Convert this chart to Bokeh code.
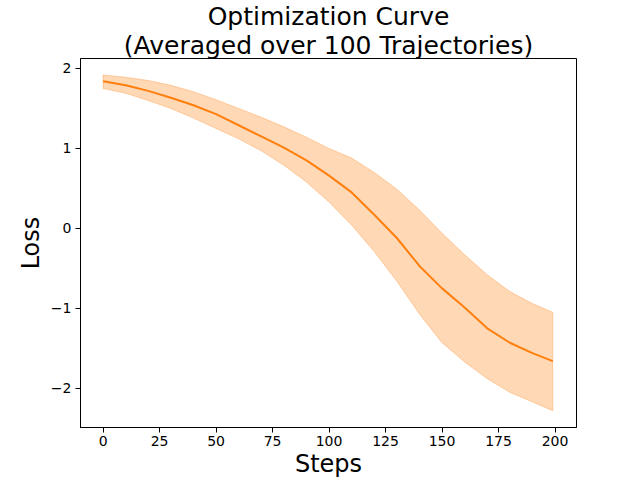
from bokeh.plotting import figure
from bokeh.models import Range1d, FixedTicker, Title
from bokeh.embed import file_html
from bokeh.resources import INLINE

steps = [0, 10, 20, 30, 40, 50, 60, 70, 80, 90, 100, 110, 120, 130, 140, 150, 160, 170, 180, 190, 199]
mean_loss = [1.84, 1.79, 1.72, 1.635, 1.54, 1.43, 1.29, 1.15, 1.01, 0.85, 0.66, 0.45, 0.17, -0.12, -0.47, -0.75, -0.99, -1.25, -1.43, -1.56, -1.66]
upper_loss = [1.92, 1.89, 1.85, 1.79, 1.71, 1.61, 1.50, 1.39, 1.27, 1.14, 1.00, 0.88, 0.70, 0.49, 0.23, -0.06, -0.33, -0.58, -0.79, -0.94, -1.05]
lower_loss = [1.75, 1.69, 1.60, 1.50, 1.38, 1.25, 1.12, 0.97, 0.79, 0.58, 0.33, 0.04, -0.29, -0.66, -1.07, -1.43, -1.67, -1.88, -2.05, -2.17, -2.28]
x_ticks = [0, 25, 50, 75, 100, 125, 150, 175, 200]
y_ticks = [-2, -1, 0, 1, 2]
title_lines = ["Optimization Curve", "(Averaged over 100 Trajectories)"]

FONT = "DejaVu Sans"
ORANGE = "#ff7f0e"

p = figure(width=640, height=480, output_backend="svg", toolbar_location=None,
           x_range=Range1d(-10, 209.5), y_range=Range1d(-2.49, 2.125),
           min_border_left=80, min_border_right=64, min_border_top=58, min_border_bottom=53)

p.title.text = title_lines[0]
p.title.align = "center"
p.title.text_font = FONT
p.title.text_font_size = "25px"
p.title.text_font_style = "normal"
p.title.text_color = "black"
p.title.standoff = -2
p.title.offset = 0
sub_title = Title(text=title_lines[1], align="center", text_font=FONT, text_font_size="25px",
                  text_font_style="normal", text_color="black", standoff=-2)
p.add_layout(sub_title, "above")

xs_poly = steps + steps[::-1]
ys_poly = upper_loss + lower_loss[::-1]
p.patch(xs_poly, ys_poly, fill_color=ORANGE, fill_alpha=0.3, line_color=ORANGE, line_alpha=0.3, line_width=1)
p.line(steps, mean_loss, line_color=ORANGE, line_width=2)

p.xgrid.visible = False
p.ygrid.visible = False
p.outline_line_color = "black"
p.outline_line_alpha = 1
p.outline_line_width = 1

for ax in (p.xaxis[0], p.yaxis[0]):
    ax.axis_line_color = "black"
    ax.major_tick_line_color = "black"
    ax.major_tick_out = 5
    ax.major_tick_in = 0
    ax.minor_tick_line_color = None
    ax.major_label_text_font = FONT
    ax.major_label_text_font_size = "14px"
    ax.major_label_text_color = "black"
    ax.axis_label_text_font = FONT
    ax.axis_label_text_font_size = "24px"
    ax.axis_label_text_font_style = "normal"
    ax.axis_label_text_color = "black"

p.yaxis.major_label_standoff = 4
p.xaxis.major_label_standoff = 3
p.xaxis.ticker = FixedTicker(ticks=x_ticks)
p.yaxis.ticker = FixedTicker(ticks=y_ticks)
p.yaxis.major_label_overrides = {t: (("\u2212" + str(-t)) if t < 0 else str(t)) for t in y_ticks}
p.xaxis.axis_label = "Steps"
p.yaxis.axis_label = "Loss"
p.xaxis.axis_label_standoff = 1
p.yaxis.axis_label_standoff = 3

open("out.html", "w").write(file_html(p, INLINE))
